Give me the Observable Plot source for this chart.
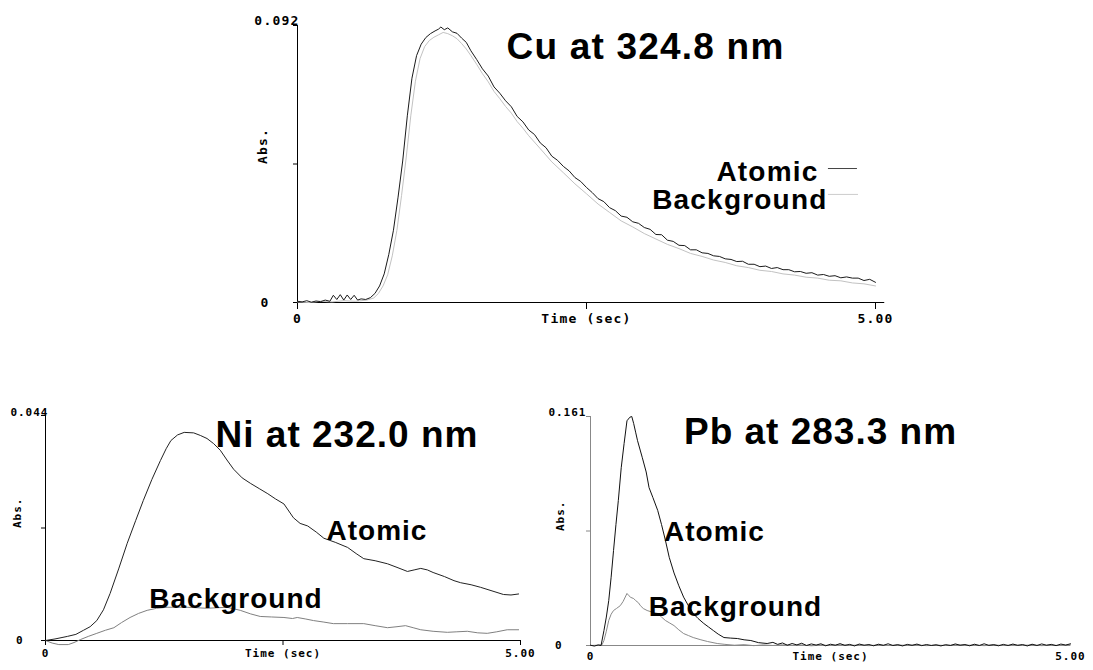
<!DOCTYPE html>
<html><head><meta charset="utf-8">
<script src="https://cdn.jsdelivr.net/npm/d3@7"></script>
<script src="https://cdn.jsdelivr.net/npm/@observablehq/plot@0.6"></script>
<style>
body{margin:0;background:#fff;}
#wrap{position:relative;width:1093px;height:670px;overflow:hidden;background:#fff;}
.panel{position:absolute;overflow:hidden;}
</style></head><body><div id="wrap"></div>
<script>
// ---------- data: [time (s), absorbance] ----------
const cuAtomic = [[0,0.0004],[0.04,0.0002],[0.08,0.0006],[0.12,0.0001],[0.16,0.0005],[0.2,0.0003],[0.24,0.0008],[0.28,0.0004],[0.31,0.0024],[0.34,0.001],[0.37,0.0026],[0.4,0.0008],[0.43,0.0025],[0.46,0.001],[0.49,0.0024],[0.52,0.0008],[0.55,0.0012],[0.59,0.001],[0.63,0.0016],[0.67,0.003],[0.71,0.0055],[0.75,0.0095],[0.79,0.016],[0.83,0.024],[0.87,0.035],[0.91,0.047],[0.95,0.062],[0.99,0.0745],[1.03,0.082],[1.07,0.0858],[1.11,0.088],[1.15,0.0893],[1.19,0.0902],[1.22,0.0908],[1.24,0.0915],[1.27,0.0906],[1.3,0.0912],[1.34,0.0899],[1.38,0.0894],[1.42,0.0878],[1.46,0.0864],[1.5,0.0836],[1.55,0.0807],[1.6,0.0776],[1.65,0.0752],[1.7,0.0716],[1.75,0.0695],[1.8,0.067],[1.85,0.065],[1.9,0.0618],[1.95,0.06],[2,0.0573],[2.05,0.0558],[2.1,0.053],[2.15,0.0514],[2.2,0.0486],[2.25,0.0472],[2.3,0.0452],[2.35,0.0437],[2.4,0.0415],[2.45,0.0402],[2.5,0.0382],[2.55,0.0365],[2.6,0.0345],[2.65,0.0335],[2.7,0.0315],[2.75,0.0305],[2.8,0.0287],[2.85,0.0283],[2.9,0.0268],[2.95,0.0263],[3,0.0249],[3.05,0.0243],[3.1,0.0226],[3.15,0.0225],[3.2,0.0207],[3.25,0.0203],[3.3,0.019],[3.35,0.0189],[3.4,0.0175],[3.45,0.0175],[3.5,0.0165],[3.55,0.0163],[3.6,0.0155],[3.65,0.0153],[3.7,0.0145],[3.75,0.0143],[3.8,0.0136],[3.85,0.0137],[3.9,0.0127],[3.95,0.0127],[4,0.0119],[4.05,0.0121],[4.1,0.0113],[4.15,0.0116],[4.2,0.0109],[4.25,0.0109],[4.3,0.0102],[4.35,0.0103],[4.4,0.0097],[4.45,0.0099],[4.5,0.0091],[4.55,0.0093],[4.6,0.0087],[4.65,0.0089],[4.7,0.0082],[4.75,0.0085],[4.8,0.0081],[4.85,0.0081],[4.9,0.0073],[4.95,0.0077],[5,0.0067]];
const cuBackground = [[0,0.0002],[0.1,0],[0.2,0.0004],[0.3,0.0002],[0.4,0.0006],[0.5,0.0004],[0.6,0.0008],[0.66,0.0015],[0.7,0.003],[0.74,0.0055],[0.78,0.0092],[0.82,0.0155],[0.86,0.024],[0.9,0.0355],[0.94,0.048],[0.98,0.062],[1.02,0.0735],[1.06,0.081],[1.1,0.085],[1.14,0.087],[1.18,0.0881],[1.22,0.0889],[1.26,0.0897],[1.3,0.0893],[1.34,0.0886],[1.38,0.0876],[1.42,0.086],[1.46,0.0842],[1.5,0.082],[1.55,0.0791],[1.6,0.076],[1.65,0.0733],[1.7,0.0701],[1.75,0.0677],[1.8,0.0651],[1.85,0.0629],[1.9,0.0601],[1.95,0.0579],[2,0.0554],[2.1,0.0511],[2.2,0.0467],[2.3,0.0431],[2.4,0.0394],[2.5,0.0361],[2.6,0.0327],[2.7,0.0299],[2.8,0.0271],[2.9,0.0251],[3,0.0229],[3.1,0.0211],[3.2,0.0193],[3.3,0.0179],[3.4,0.0163],[3.5,0.0153],[3.6,0.0141],[3.7,0.0133],[3.8,0.0122],[3.9,0.0116],[4,0.0107],[4.1,0.0103],[4.2,0.0095],[4.3,0.0091],[4.4,0.0084],[4.5,0.0081],[4.6,0.0074],[4.7,0.0072],[4.8,0.0065],[4.9,0.0062],[5,0.0055]];

const niAtomic = [[0,0],[0.1,0.0003],[0.23,0.0008],[0.32,0.0012],[0.4,0.002],[0.47,0.0027],[0.54,0.0039],[0.61,0.006],[0.68,0.0092],[0.77,0.014],[0.86,0.019],[0.95,0.0235],[1.03,0.0274],[1.12,0.0315],[1.21,0.0352],[1.27,0.0375],[1.32,0.0391],[1.39,0.0402],[1.46,0.0407],[1.56,0.0406],[1.63,0.0401],[1.7,0.0395],[1.77,0.0385],[1.84,0.0372],[1.91,0.0353],[1.98,0.0335],[2.07,0.0318],[2.16,0.0307],[2.25,0.0297],[2.34,0.0287],[2.42,0.0277],[2.51,0.0267],[2.61,0.024],[2.68,0.0229],[2.76,0.0224],[2.85,0.0212],[2.93,0.02],[3.05,0.0192],[3.18,0.0182],[3.27,0.017],[3.35,0.016],[3.47,0.0156],[3.6,0.015],[3.7,0.0143],[3.81,0.0135],[3.88,0.0138],[3.95,0.0141],[4.02,0.0138],[4.08,0.0133],[4.2,0.0125],[4.3,0.0117],[4.37,0.0113],[4.48,0.0109],[4.58,0.0104],[4.7,0.0097],[4.82,0.009],[4.9,0.0089],[4.98,0.0091]];
const niBackground = [[0,0],[0.07,-0.0005],[0.14,-0.0008],[0.24,-0.0008],[0.3,-0.0004],[0.37,0.0002],[0.45,0.0008],[0.54,0.0014],[0.63,0.002],[0.72,0.0025],[0.8,0.0035],[0.89,0.0045],[0.98,0.0053],[1.07,0.0059],[1.17,0.0063],[1.28,0.0065],[1.39,0.0065],[1.49,0.0065],[1.6,0.0064],[1.7,0.0063],[1.8,0.0064],[1.91,0.0065],[1.98,0.0062],[2.05,0.0059],[2.16,0.0052],[2.26,0.0047],[2.38,0.0046],[2.51,0.0045],[2.6,0.0043],[2.65,0.0045],[2.74,0.0042],[2.82,0.0039],[2.93,0.0036],[3.03,0.0033],[3.18,0.0033],[3.35,0.0033],[3.47,0.0029],[3.6,0.0025],[3.7,0.0027],[3.79,0.0029],[3.87,0.0025],[3.95,0.0021],[4.08,0.0018],[4.23,0.0016],[4.33,0.0017],[4.44,0.0018],[4.55,0.0015],[4.65,0.0014],[4.75,0.0017],[4.86,0.0021],[4.98,0.0021]];

const pbAtomic = [[0,0.0002],[0.04,-0.0004],[0.08,0.0004],[0.11,0],[0.14,0.0105],[0.165,0.02],[0.19,0.0316],[0.215,0.048],[0.24,0.0668],[0.265,0.085],[0.29,0.102],[0.32,0.125],[0.35,0.142],[0.38,0.158],[0.41,0.1605],[0.43,0.161],[0.45,0.156],[0.47,0.15],[0.49,0.144],[0.54,0.132],[0.58,0.122],[0.61,0.111],[0.65,0.104],[0.7,0.095],[0.74,0.085],[0.78,0.074],[0.82,0.062],[0.87,0.051],[0.92,0.042],[0.97,0.034],[1.02,0.028],[1.07,0.0225],[1.12,0.019],[1.18,0.0155],[1.23,0.013],[1.28,0.0105],[1.33,0.008],[1.39,0.0056],[1.46,0.0052],[1.53,0.0049],[1.6,0.004],[1.67,0.0035],[1.75,0.002],[1.84,0.0014],[1.9,0.0022],[1.95,0.0008],[2,0.0018],[2.05,0.0002],[2.1,0.0014],[2.15,0.0004],[2.2,0.0016],[2.25,0],[2.3,0.0011],[2.35,0.0003],[2.4,0.0012],[2.45,-0.0002],[2.5,0.0009],[2.55,0.0002],[2.6,0.0013],[2.65,0.0001],[2.7,0.0008],[2.75,-0.0003],[2.8,0.001],[2.85,0.0002],[2.9,0.0007],[2.95,-0.0002],[3,0.0009],[3.05,0.0001],[3.1,0.0012],[3.15,0],[3.2,0.0006],[3.25,-0.0003],[3.3,0.0008],[3.35,0.0001],[3.4,0.001],[3.45,-0.0001],[3.5,0.0007],[3.55,0],[3.6,0.0005],[3.65,-0.0003],[3.7,0.0006],[3.75,0],[3.8,0.0011],[3.85,0.0002],[3.9,0.0007],[3.95,-0.0002],[4,0.0009],[4.05,0],[4.1,0.0012],[4.15,0.0001],[4.2,0.0006],[4.25,-0.0002],[4.3,0.0008],[4.35,0],[4.4,0.001],[4.45,0.0001],[4.5,0.0007],[4.55,-0.0003],[4.6,0.0009],[4.65,0],[4.7,0.0011],[4.75,0.0002],[4.8,0.0008],[4.85,-0.0001],[4.9,0.001],[4.95,0.0003],[5,0.0012]];
const pbBackground = [[0,0],[0.08,0.0002],[0.12,0.0005],[0.14,0.0035],[0.165,0.01],[0.19,0.0176],[0.215,0.022],[0.24,0.0246],[0.27,0.026],[0.31,0.028],[0.34,0.031],[0.38,0.0366],[0.4,0.035],[0.42,0.0338],[0.45,0.033],[0.47,0.0316],[0.5,0.03],[0.52,0.028],[0.55,0.026],[0.59,0.0246],[0.64,0.0235],[0.7,0.0225],[0.74,0.02],[0.78,0.0176],[0.82,0.016],[0.87,0.014],[0.92,0.011],[0.97,0.0084],[1.02,0.007],[1.07,0.0056],[1.15,0.004],[1.22,0.0028],[1.32,0.0014],[1.4,0.0008],[1.5,0.0002],[1.6,0.0006],[1.7,-0.0001],[1.8,0.0004],[1.9,0],[2,0.0005],[2.1,0.0001],[2.2,0.0004],[2.3,-0.0002],[2.4,0.0003],[2.5,0],[2.6,0.0004],[2.7,0.0001],[2.8,0.0003],[2.9,-0.0001],[3,0.0004],[3.1,0],[3.2,0.0003],[3.3,0.0001],[3.4,0.0004],[3.5,-0.0001],[3.6,0.0003],[3.7,0],[3.8,0.0004],[3.9,0.0001],[4,0.0003],[4.1,-0.0001],[4.2,0.0004],[4.3,0],[4.4,0.0003],[4.5,0.0001],[4.6,0.0004],[4.7,-0.0001],[4.8,0.0003],[4.9,0],[5,0.0004]];

const xTickValues = [0, 2.5, 5];
const xTickLabels = ["0", "Time (sec)", "5.00"];
const cuYMax = 0.092, niYMax = 0.044, pbYMax = 0.161;
const cuYMaxLabel = "0.092", niYMaxLabel = "0.044", pbYMaxLabel = "0.161";
const titles = ["Cu at 324.8 nm", "Ni at 232.0 nm", "Pb at 283.3 nm"];
const seriesNames = ["Atomic", "Background"];

// ---------- drawing ----------
const wrap = document.getElementById("wrap");
const toRows = a => a.map(([t, v]) => ({t, v}));
const TITLE_FONT = "'Liberation Sans', Arial, sans-serif";

function panel(o) {
  const ticksY = [0, o.yMax / 2, o.yMax];
  const marks = [
    Plot.ruleY([0], {stroke: o.axisColor, x1: 0, x2: o.axisEnd}),
    Plot.ruleX([0], {stroke: o.axisColor}),
    Plot.axisY(ticksY, {label: null, tickSize: 4, tickPadding: o.yPad, stroke: o.axisColor, fill: "#000",
      tickFormat: d => d === 0 ? "0" : ""}),
    Plot.axisX(xTickValues, {label: null, tickSize: o.xTickSize, tickPadding: o.xPad, stroke: o.axisColor, fill: "#000",
      tickFormat: d => xTickLabels[xTickValues.indexOf(d)], dx: o.xDx || 0}),
    Plot.text([o.yMaxLabel], {frameAnchor: "top-left", textAnchor: "end", dx: o.topDx, dy: o.topDy, fill: "#000"}),
    Plot.text(["Abs."], {frameAnchor: "left", rotate: -90, dx: o.absDx, fill: "#000"}),
    Plot.line(toRows(o.bg), {x: "t", y: "v", stroke: o.bgColor, strokeWidth: 1}),
    Plot.line(toRows(o.atomic), {x: "t", y: "v", stroke: o.atColor, strokeWidth: 1}),
    Plot.text([o.title], {frameAnchor: "top", dx: o.titleDx, dy: o.titleDy, fontFamily: TITLE_FONT,
      fontWeight: "bold", fontSize: 37, fill: "#000", lineAnchor: "middle", letterSpacing: "0px"}),
    ...o.extra
  ];
  const chart = Plot.plot({
    width: o.width, height: o.height,
    marginLeft: o.ml, marginRight: o.mr, marginTop: o.mt, marginBottom: o.mb,
    x: {domain: [0, 5]},
    y: {domain: [0, o.yMax]},
    style: {fontFamily: "'DejaVu Sans Mono', monospace", fontWeight: "bold", fontSize: o.fontSize + "px",
      background: "transparent", overflow: "visible", letterSpacing: o.ls + "px"},
    marks
  });
  const div = document.createElement("div");
  div.className = "panel";
  div.style.left = o.left + "px"; div.style.top = o.top + "px";
  div.style.width = o.width + "px"; div.style.height = o.height + "px";
  div.appendChild(chart);
  wrap.appendChild(div);
}

const labelFont = {fontFamily: TITLE_FONT, fontWeight: "bold", fontSize: 28, fill: "#000", lineAnchor: "middle", letterSpacing: "0px"};

// Cu
panel({
  left: 240, top: 0, width: 660, height: 335, ml: 57, mr: 25, mt: 25, mb: 33,
  yMax: cuYMax, yMaxLabel: cuYMaxLabel, fontSize: 13, ls: 1.2, axisEnd: 5.08,
  axisColor: "#000", atColor: "#1a1a1a", bgColor: "#c2c2c2",
  yPad: 24, xTickSize: 7, xPad: 4, topDx: 2, topDy: -10, absDx: -35,
  atomic: cuAtomic, bg: cuBackground,
  title: titles[0], titleDx: 59, titleDy: 22,
  extra: [
    Plot.text([seriesNames[0]], {frameAnchor: "top-right", textAnchor: "end", dx: -57, dy: 147, ...labelFont}),
    Plot.text([seriesNames[1]], {frameAnchor: "top-right", textAnchor: "end", dx: -48, dy: 175, ...labelFont}),
    Plot.ruleY([0.0445], {x1: 4.593, x2: 4.844, stroke: "#444"}),
    Plot.ruleY([0.0359], {x1: 4.593, x2: 4.853, stroke: "#ccc"})
  ]
});

// Ni
panel({
  left: 0, top: 395, width: 540, height: 275, ml: 45, mr: 20, mt: 20, mb: 30,
  yMax: niYMax, yMaxLabel: niYMaxLabel, fontSize: 11, ls: 1, axisEnd: 5,
  axisColor: "#000", atColor: "#222", bgColor: "#808080",
  yPad: 18, xTickSize: 5, xPad: 4, topDx: 3, topDy: -7, absDx: -28, xDx: 0,
  atomic: niAtomic, bg: niBackground,
  title: titles[1], titleDx: 64, titleDy: 20,
  extra: [
    Plot.text([seriesNames[0]], {frameAnchor: "top", dx: 94, dy: 116, ...labelFont}),
    Plot.text([seriesNames[1]], {frameAnchor: "top", dx: -47, dy: 184, ...labelFont})
  ]
});

// Pb
panel({
  left: 545, top: 395, width: 548, height: 275, ml: 45, mr: 23, mt: 21, mb: 25,
  yMax: pbYMax, yMaxLabel: pbYMaxLabel, fontSize: 11, ls: 1, axisEnd: 5,
  axisColor: "#888", atColor: "#111", bgColor: "#8a8a8a",
  yPad: 24, xTickSize: 0, xPad: 7, topDx: -4, topDy: -8, absDx: -30,
  atomic: pbAtomic, bg: pbBackground,
  title: titles[2], titleDx: -10, titleDy: 16,
  extra: [
    Plot.text([seriesNames[0]], {frameAnchor: "top", dx: -116, dy: 116, ...labelFont}),
    Plot.text([seriesNames[1]], {frameAnchor: "top", dx: -95, dy: 191, ...labelFont})
  ]
});
</script></body></html>
